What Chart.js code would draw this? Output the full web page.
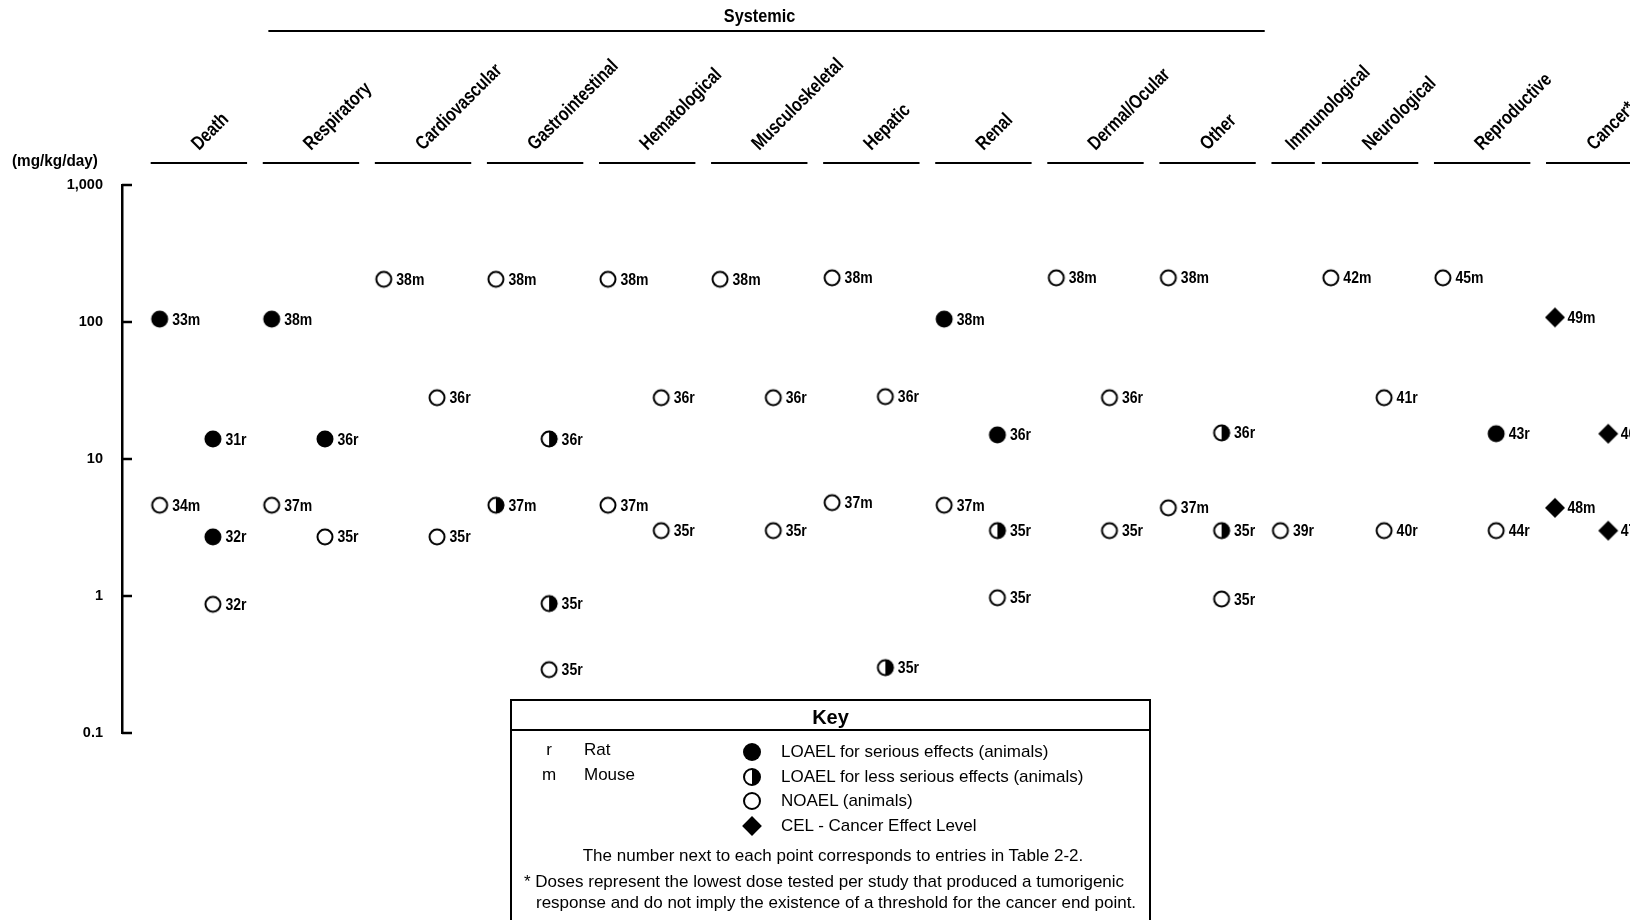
<!DOCTYPE html>
<html>
<head>
<meta charset="utf-8">
<title>Levels of significant exposure - oral</title>
<script src="https://cdn.jsdelivr.net/npm/chart.js@4.4.1/dist/chart.umd.min.js"></script>
<style>
  html, body { margin: 0; padding: 0; background: #fff; overflow: hidden; }
  #wrap { position: relative; width: 1630px; height: 920px; overflow: hidden; }
  #chart { position: absolute; left: 0; top: 0; }
  #key {
    position: absolute; left: 510px; top: 699px; width: 641px; height: 240px;
    box-sizing: border-box; border: 2px solid #000;
    font-family: "Liberation Sans", Arial, sans-serif; font-size: 17px; color: #000;
  }
  #key div { position: absolute; line-height: 20px; white-space: nowrap; }
  #key .title { left: 0; width: 100%; top: 6px; text-align: center; font-weight: bold; font-size: 20px; }
  #key .sep { left: 0; width: 100%; top: 28px; height: 2px; background: #000; }
  #key .sym { width: 20px; left: 27px; text-align: center; }
  #key .mk { left: 231px; width: 18px; height: 18px; box-sizing: border-box; }
  #key .filled { border-radius: 50%; background: #000; }
  #key .half { border-radius: 50%; border: 2px solid #000; background: linear-gradient(to right, #fff 50%, #000 50%); }
  #key .open { border-radius: 50%; border: 2px solid #000; background: #fff; }
  #key .diamond { width: 14px; height: 14px; left: 233px; background: #000; transform: rotate(45deg); }
  #key .txt { left: 269px; }
</style>
</head>
<body>
<div id="wrap">
  <canvas id="chart" width="1630" height="920"></canvas>
  <div id="key">
    <div class="title">Key</div>
    <div class="sep"></div>
    <div class="sym" style="top:39px">r</div><div style="left:72px;top:39px">Rat</div>
    <div class="sym" style="top:64px">m</div><div style="left:72px;top:64px">Mouse</div>
    <div class="mk filled" style="top:42px"></div><div class="txt" style="top:41px">LOAEL for serious effects (animals)</div>
    <div class="mk half" style="top:67px"></div><div class="txt" style="top:66px">LOAEL for less serious effects (animals)</div>
    <div class="mk open" style="top:91px"></div><div class="txt" style="top:90px">NOAEL (animals)</div>
    <div class="mk diamond" style="top:118px"></div><div class="txt" style="top:115px">CEL - Cancer Effect Level</div>
    <div style="left:0;width:642px;text-align:center;top:145px">The number next to each point corresponds to entries in Table 2-2.</div>
    <div style="left:12px;top:171px">* Doses represent the lowest dose tested per study that produced a tumorigenic</div>
    <div style="left:24px;top:192px">response and do not imply the existence of a threshold for the cancer end point.</div>
  </div>
</div>
<script>
// columns of the figure
const categories = ['Death', 'Respiratory', 'Cardiovascular', 'Gastrointestinal', 'Hematological',
  'Musculoskeletal', 'Hepatic', 'Renal', 'Dermal/Ocular', 'Other', 'Immunological',
  'Neurological', 'Reproductive', 'Cancer*'];
const systemicGroup = [1, 9];          // Respiratory .. Other
const yTicks = [0.1, 1, 10, 100, 1000]; // mg/kg/day

// [column, study + species, dose in mg/kg/day]
const seriousLoael = [
  [0, '33m', 105], [0, '31r', 14], [0, '32r', 2.7],
  [1, '38m', 105], [1, '36r', 14],
  [7, '38m', 105], [7, '36r', 15],
  [12, '43r', 15.3]
];
const lessSeriousLoael = [
  [3, '36r', 14], [3, '37m', 4.6], [3, '35r', 0.88],
  [6, '35r', 0.3],
  [7, '35r', 3],
  [9, '36r', 15.5], [9, '35r', 3]
];
const noael = [
  [0, '34m', 4.6], [0, '32r', 0.87],
  [1, '37m', 4.6], [1, '35r', 2.7],
  [2, '38m', 205], [2, '36r', 28], [2, '35r', 2.7],
  [3, '38m', 205], [3, '35r', 0.29],
  [4, '38m', 205], [4, '36r', 28], [4, '37m', 4.6], [4, '35r', 3],
  [5, '38m', 205], [5, '36r', 28], [5, '35r', 3],
  [6, '38m', 210], [6, '36r', 28.5], [6, '37m', 4.8],
  [7, '37m', 4.6], [7, '35r', 0.97],
  [8, '38m', 210], [8, '36r', 28], [8, '35r', 3],
  [9, '38m', 210], [9, '37m', 4.4], [9, '35r', 0.95],
  [10, '39r', 3],
  [11, '42m', 210], [11, '41r', 28], [11, '40r', 3],
  [12, '45m', 210], [12, '44r', 3]
];
const cel = [
  [13, '49m', 108], [13, '46r', 15.3], [13, '48m', 4.4], [13, '47r', 3]
];

// layout: column widths in x units (Immunological is a narrow column),
// mouse studies sit on the left of a column, rat studies on the right
const colWidth = [1, 1, 1, 1, 1, 1, 1, 1, 1, 1, 0.45, 1, 1, 1];
const colStart = colWidth.map((w, i) => colWidth.slice(0, i).reduce((a, b) => a + b, 0));

function toPoints(list) {
  return list.map(([c, tag, dose]) => ({
    x: colStart[c] + (colWidth[c] === 1 && tag.endsWith('r') ? 0.555 : 0.08),
    y: dose,
    tag: tag
  }));
}

// marker images
function marker(kind) {
  const c = document.createElement('canvas');
  c.width = 22; c.height = 22;
  const g = c.getContext('2d');
  g.fillStyle = '#000'; g.strokeStyle = '#000'; g.lineWidth = 2;
  if (kind === 'filled') {
    g.beginPath(); g.arc(11, 11, 8.5, 0, Math.PI * 2); g.fill();
  } else if (kind === 'half') {
    g.beginPath(); g.arc(11, 11, 7.5, 0, Math.PI * 2); g.fillStyle = '#fff'; g.fill(); g.stroke();
    g.fillStyle = '#000';
    g.beginPath(); g.arc(11, 11, 8.3, -Math.PI / 2, Math.PI / 2); g.closePath(); g.fill();
  } else if (kind === 'open') {
    g.beginPath(); g.arc(11, 11, 7.5, 0, Math.PI * 2); g.fillStyle = '#fff'; g.fill(); g.stroke();
  } else {
    g.beginPath(); g.moveTo(11, 1); g.lineTo(21, 11); g.lineTo(11, 21); g.lineTo(1, 11); g.closePath(); g.fill();
  }
  return c;
}

const FONT = '"Liberation Sans", Arial, sans-serif';

// narrow bold lettering like the original print
function narrowText(ctx, text, x, y, angle, size, squeeze) {
  ctx.save();
  ctx.translate(x, y);
  ctx.rotate(angle);
  ctx.scale(squeeze, 1);
  ctx.font = 'bold ' + size + 'px ' + FONT;
  ctx.fillText(text, 0, 0);
  ctx.restore();
}

// study labels next to each point
const pointLabels = {
  id: 'pointLabels',
  afterDatasetsDraw(chart) {
    const ctx = chart.ctx;
    ctx.save();
    ctx.fillStyle = '#000';
    ctx.textBaseline = 'middle';
    chart.data.datasets.forEach((ds, i) => {
      chart.getDatasetMeta(i).data.forEach((pt, j) => {
        narrowText(ctx, ds.data[j].tag, pt.x + 12.5, pt.y + 1, 0, 16.5, 0.85);
      });
    });
    ctx.restore();
  }
};

// column headings, underlines, group line, unit and inward ticks
const frame = {
  id: 'frame',
  afterDraw(chart) {
    const { ctx, scales: { x, y } } = chart;
    ctx.save();
    ctx.fillStyle = '#000';
    ctx.strokeStyle = '#000';

    ctx.lineWidth = 2;
    ctx.textAlign = 'left';
    ctx.textBaseline = 'alphabetic';
    categories.forEach((name, c) => {
      const a = x.getPixelForValue(colStart[c]);
      const b = x.getPixelForValue(colStart[c] + 0.86 * colWidth[c]);
      ctx.beginPath(); ctx.moveTo(a, 163); ctx.lineTo(b, 163); ctx.stroke();
      narrowText(ctx, name, (a + b) / 2, 151, -Math.PI / 4, 19.5, 0.8);
    });

    const sa = x.getPixelForValue(colStart[systemicGroup[0]] + 0.05);
    const sb = x.getPixelForValue(colStart[systemicGroup[1]] + 0.94);
    ctx.beginPath(); ctx.moveTo(sa, 31); ctx.lineTo(sb, 31); ctx.stroke();
    ctx.textAlign = 'center';
    ctx.textBaseline = 'middle';
    narrowText(ctx, 'Systemic', (sa + sb) / 2 - 7, 17, 0, 18.5, 0.88);

    ctx.textAlign = 'left';
    narrowText(ctx, '(mg/kg/day)', 12, 161, 0, 17, 0.9);

    ctx.lineWidth = 2.5;
    y.ticks.forEach(t => {
      const py = y.getPixelForValue(t.value);
      ctx.beginPath(); ctx.moveTo(y.right, py); ctx.lineTo(y.right + 10, py); ctx.stroke();
    });
    ctx.restore();
  }
};

const base = { pointRadius: 9, pointHoverRadius: 9, showLine: false };

new Chart(document.getElementById('chart'), {
  type: 'scatter',
  data: {
    datasets: [
      { ...base, label: 'LOAEL for serious effects', data: toPoints(seriousLoael), pointStyle: marker('filled') },
      { ...base, label: 'LOAEL for less serious effects', data: toPoints(lessSeriousLoael), pointStyle: marker('half') },
      { ...base, label: 'NOAEL', data: toPoints(noael), pointStyle: marker('open') },
      { ...base, label: 'CEL', data: toPoints(cel), pointStyle: marker('diamond') }
    ]
  },
  options: {
    responsive: false,
    animation: false,
    layout: { padding: { top: 185, bottom: 187, left: 0, right: 0 } },
    plugins: { legend: { display: false }, tooltip: { enabled: false } },
    scales: {
      x: { type: 'linear', display: false, min: -0.256, max: 13.11 },
      y: {
        type: 'logarithmic',
        min: 0.1,
        max: 1000,
        afterBuildTicks: s => { s.ticks = yTicks.map(v => ({ value: v })); },
        afterFit: s => { s.width = 122; },
        grid: { display: false, drawTicks: false },
        border: { display: true, color: '#000', width: 2.5 },
        ticks: {
          color: '#000',
          padding: 19,
          font: { family: FONT, size: 14.5, weight: 'bold' },
          callback: v => Number(v).toLocaleString('en-US')
        }
      }
    }
  },
  plugins: [pointLabels, frame]
});
</script>
</body>
</html>
